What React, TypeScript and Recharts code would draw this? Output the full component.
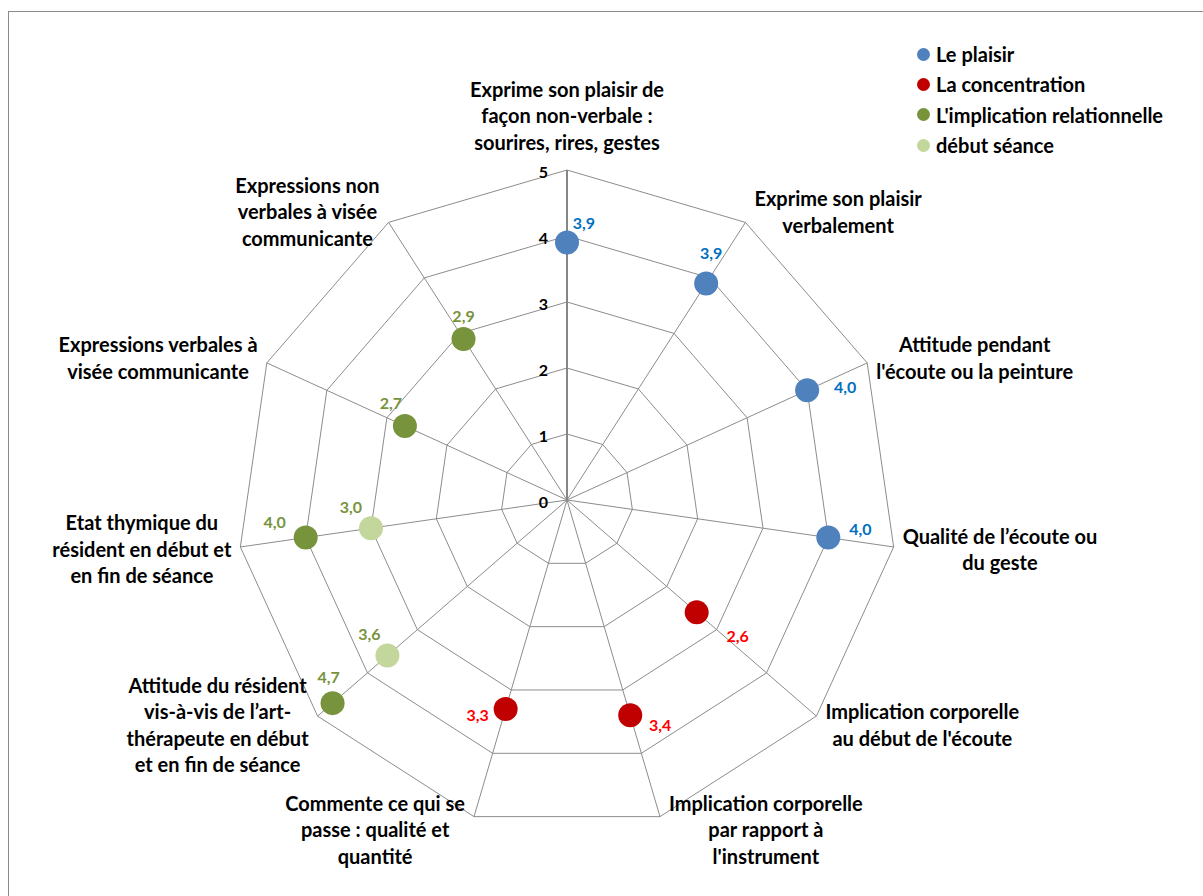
import React from 'react';
import { RadarChart, Radar, PolarGrid, PolarAngleAxis, PolarRadiusAxis, Legend } from 'recharts';

// axis captions, clockwise from the top (line breaks are kept as typed)
const CATEGORIES = [
  'Exprime son plaisir de\nfaçon non-verbale :\nsourires, rires, gestes',
  'Exprime son plaisir\nverbalement',
  "Attitude pendant\nl'écoute ou la peinture",
  'Qualité de l’écoute ou\ndu geste',
  "Implication corporelle\nau début de l'écoute",
  "Implication corporelle\npar rapport à\nl'instrument",
  'Commente ce qui se\npasse : qualité et\nquantité',
  'Attitude du résident\nvis-à-vis de l’art-\nthérapeute en début\net en fin de séance',
  'Etat thymique du\nrésident en début et\nen fin de séance',
  'Expressions verbales à\nvisée communicante',
  'Expressions non\nverbales à visée\ncommunicante',
];

const PLAISIR = [3.9, 3.9, 4.0, 4.0, null, null, null, null, null, null, null];
const CONCENTRATION = [null, null, null, null, 2.6, 3.4, 3.3, null, null, null, null];
const IMPLICATION = [null, null, null, null, null, null, null, 4.7, 4.0, 2.7, 2.9];
const DEBUT_SEANCE = [null, null, null, null, null, null, null, 3.6, 3.0, null, null];

const RADIUS_TICKS = [0, 1, 2, 3, 4, 5];

const WIDTH = 1203;
const HEIGHT = 896;
const CX = 567;
const CY = 500;
const OUTER = 330;
const FONT = 'Lato, "Open Sans", sans-serif';
const LINE_H = 26.5;

const data = CATEGORIES.map((axis, i) => ({
  axis,
  plaisir: PLAISIR[i],
  concentration: CONCENTRATION[i],
  implication: IMPLICATION[i],
  debut: DEBUT_SEANCE[i],
}));

const SERIES = [
  { key: 'plaisir', name: 'Le plaisir', fill: '#4F81BD', text: '#0070C0' },
  { key: 'concentration', name: 'La concentration', fill: '#C00000', text: '#FF0000' },
  { key: 'implication', name: "L'implication relationnelle", fill: '#77933C', text: '#77933C' },
  { key: 'debut', name: 'début séance', fill: '#C3D69B', text: '#77933C' },
];

// where each value label sits relative to its dot
const LABEL_OFFSET: Record<string, Record<number, [number, number]>> = {
  plaisir: { 0: [17, -20], 1: [5, -31], 2: [38, -4], 3: [32, -9] },
  concentration: { 4: [41, 23], 5: [30, 9], 6: [-28, 6] },
  implication: { 7: [-4, -27], 8: [-31, -16], 9: [-14, -23], 10: [0, -23] },
  debut: { 7: [-18, -22], 8: [-20, -22] },
};

let measureCtx: CanvasRenderingContext2D | null = null;
const textWidth = (s: string) => {
  if (!measureCtx) measureCtx = document.createElement('canvas').getContext('2d');
  if (!measureCtx) return s.length * 9.5;
  measureCtx.font = `bold 20px ${FONT}`;
  return measureCtx.measureText(s).width;
};

const AngleTick = (props: any) => {
  const i = props.index;
  const lines = CATEGORIES[i].split('\n');
  const theta = (i * 2 * Math.PI) / CATEGORIES.length;
  const s = Math.sin(theta);
  const c = Math.cos(theta);
  const vx = CX + OUTER * s;
  const vy = CY - OUTER * c;
  const h = lines.length * LINE_H;
  const w = Math.max(...lines.map(textWidth));
  let x = vx;
  let y = vy - 15 - h / 2;
  if (Math.abs(s) > 0.1) {
    const side = Math.sign(s);
    x = vx + side * (9 + w / 2);
    y = vy - c * 13;
  }
  return (
    <g>
      {lines.map((ln, k) => (
        <text
          key={k}
          x={x}
          y={y + (k - (lines.length - 1) / 2) * LINE_H}
          textAnchor="middle"
          dominantBaseline="central"
          fontFamily={FONT}
          fontWeight="bold"
          fontSize={20}
          fill="#000"
        >
          {ln}
        </text>
      ))}
    </g>
  );
};

const RadiusTick = (props: any) => {
  const { x, y, payload } = props;
  return (
    <text
      x={x - 19}
      y={y + 1}
      textAnchor="end"
      dominantBaseline="central"
      fontFamily={FONT}
      fontWeight="bold"
      fontSize={16}
      fill="#000"
    >
      {payload.value}
    </text>
  );
};

const makeDot = (series: (typeof SERIES)[number]) => (props: any) => {
  const { cx, cy, index } = props;
  const row = data[index] as any;
  const value = row ? row[series.key] : null;
  if (value == null || !Number.isFinite(cx) || !Number.isFinite(cy)) return <g key={`${series.key}-${index}`} />;
  const [dx, dy] = LABEL_OFFSET[series.key][index] || [0, -22];
  return (
    <g key={`${series.key}-${index}`}>
      <circle cx={cx} cy={cy} r={12} fill={series.fill} stroke="none" />
      <text
        x={cx + dx}
        y={cy + dy}
        textAnchor="middle"
        dominantBaseline="central"
        fontFamily={FONT}
        fontWeight="bold"
        fontSize={16}
        fill={series.text}
      >
        {value.toFixed(1).replace('.', ',')}
      </text>
    </g>
  );
};

const LegendBox = () => (
  <div style={{ fontFamily: FONT, fontWeight: 'bold', fontSize: 20, color: '#000' }}>
    {SERIES.map((s) => (
      <div key={s.key} style={{ display: 'flex', alignItems: 'center', height: 30.3 }}>
        <span
          style={{
            display: 'inline-block',
            width: 13,
            height: 13,
            borderRadius: '50%',
            background: s.fill,
            marginRight: 6,
          }}
        />
        <span>{s.name}</span>
      </div>
    ))}
  </div>
);

export default function App() {
  return (
    <div
      style={{
        position: 'absolute',
        left: 0,
        top: 0,
        width: WIDTH,
        height: HEIGHT,
        overflow: 'hidden',
        background: '#fff',
      }}
    >
      <div
        style={{
          position: 'absolute',
          left: 8,
          top: 11,
          width: WIDTH + 100,
          height: HEIGHT + 100,
          border: '1px solid #8a8a8a',
        }}
      />
      <div style={{ position: 'absolute', left: 0, top: 0 }}>
        <RadarChart
          width={WIDTH}
          height={HEIGHT}
          data={data}
          cx={CX}
          cy={CY}
          outerRadius={OUTER}
          margin={{ top: 0, right: 0, bottom: 0, left: 0 }}
        >
          <PolarGrid gridType="polygon" stroke="#8c8c8c" strokeWidth={1} />
          <PolarAngleAxis dataKey="axis" tick={<AngleTick />} tickLine={false} axisLine={false} />
          <PolarRadiusAxis
            angle={90}
            domain={[0, 5]}
            ticks={RADIUS_TICKS as any}
            tickCount={6}
            tick={<RadiusTick />}
            axisLine={{ stroke: '#868686', strokeWidth: 2 }}
            tickLine={false}
          />
          {SERIES.map((s) => (
            <Radar
              key={s.key}
              name={s.name}
              dataKey={s.key}
              stroke="none"
              fill="none"
              fillOpacity={0}
              dot={makeDot(s)}
              isAnimationActive={false}
            />
          ))}
          <Legend
            content={<LegendBox />}
            wrapperStyle={{ position: 'absolute', left: 917, top: 39, width: 280 }}
          />
        </RadarChart>
      </div>
    </div>
  );
}
